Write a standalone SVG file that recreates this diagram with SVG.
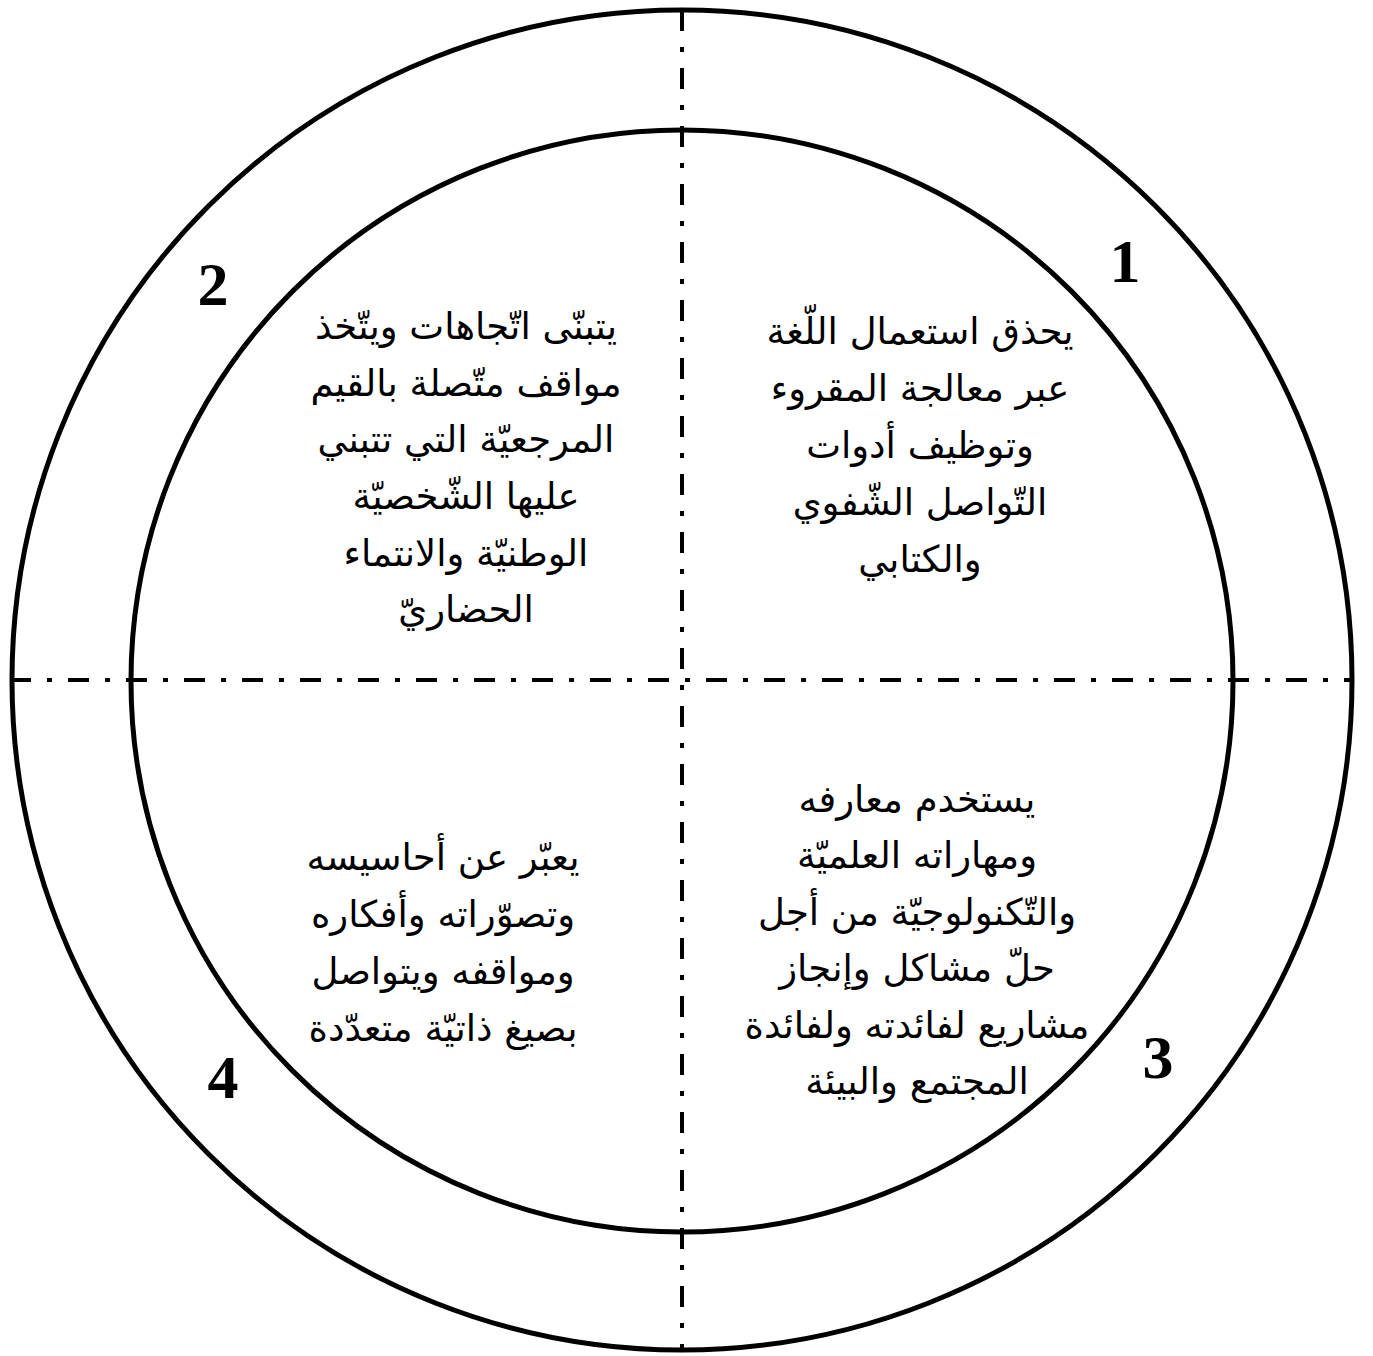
<svg xmlns="http://www.w3.org/2000/svg" width="1373" height="1356" viewBox="0 0 1373 1356">
<style>
.ring{fill:none;stroke:#000;stroke-width:5}
.axis{stroke:#000;stroke-width:4;stroke-dasharray:21 16 5 16;fill:none}
.ar{font-family:'DejaVu Sans',sans-serif;font-size:37px;fill:#000;text-anchor:middle;direction:rtl}
.num{font-family:'Liberation Serif','Times New Roman',serif;font-size:62px;font-weight:bold;fill:#000;text-anchor:middle}
</style>
<rect width="1373" height="1356" fill="#fff"/>
<g id="rings">
<circle class="ring" cx="682" cy="680" r="670"/>
<circle class="ring" cx="682" cy="681" r="551"/>
</g>
<g id="connectors">
<line class="axis" x1="682" y1="10" x2="682" y2="1350"/>
<line class="axis" x1="10" y1="680" x2="1353" y2="680"/>
</g>
<g id="q1">
<text class="num" x="1125" y="282">1</text>
<text class="ar" x="920" y="344">يحذق استعمال اللّغة</text>
<text class="ar" x="920" y="401">عبر معالجة المقروء</text>
<text class="ar" x="920" y="458">وتوظيف أدوات</text>
<text class="ar" x="920" y="515">التّواصل الشّفوي</text>
<text class="ar" x="920" y="572">والكتابي</text>
</g>
<g id="q2">
<text class="num" x="213" y="305">2</text>
<text class="ar" x="466" y="339">يتبنّى اتّجاهات ويتّخذ</text>
<text class="ar" x="466" y="396">مواقف متّصلة بالقيم</text>
<text class="ar" x="466" y="452">المرجعيّة التي تتبني</text>
<text class="ar" x="466" y="509">عليها الشّخصيّة</text>
<text class="ar" x="466" y="566">الوطنيّة والانتماء</text>
<text class="ar" x="466" y="622">الحضاريّ</text>
</g>
<g id="q3">
<text class="num" x="1158" y="1078">3</text>
<text class="ar" x="917" y="812">يستخدم معارفه</text>
<text class="ar" x="917" y="868">ومهاراته العلميّة</text>
<text class="ar" x="917" y="925">والتّكنولوجيّة من أجل</text>
<text class="ar" x="917" y="981">حلّ مشاكل وإنجاز</text>
<text class="ar" x="917" y="1038">مشاريع لفائدته ولفائدة</text>
<text class="ar" x="917" y="1094">المجتمع والبيئة</text>
</g>
<g id="q4">
<text class="num" x="223" y="1098">4</text>
<text class="ar" x="443" y="870">يعبّر عن أحاسيسه</text>
<text class="ar" x="443" y="927">وتصوّراته وأفكاره</text>
<text class="ar" x="443" y="984">ومواقفه ويتواصل</text>
<text class="ar" x="443" y="1041">بصيغ ذاتيّة متعدّدة</text>
</g>
</svg>
